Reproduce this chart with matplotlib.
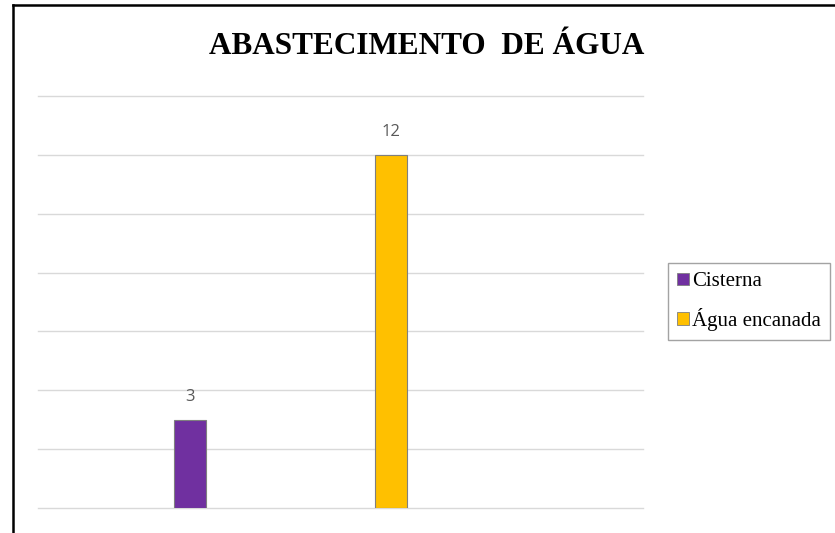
import matplotlib.pyplot as plt
from matplotlib.lines import Line2D
from matplotlib.patches import Patch

# dados do gráfico
categorias = ['Cisterna', 'Água encanada']
valores = [3, 12]
cores = ['#7030A0', '#FFC000']

fig = plt.figure(figsize=(8.35, 5.33), dpi=100)
W, H = 835, 533

# área do gráfico em pixels (esq, base, larg, alt)
ax = fig.add_axes([38 / W, (H - 508) / H, (643 - 38) / W, (508 - 96) / H])

posicoes = range(len(valores))
barras = ax.bar(posicoes, valores, width=0.155, color=cores,
                edgecolor='#7f7f7f', linewidth=0.8, zorder=3)

for b, v in zip(barras, valores):
    ax.text(b.get_x() + b.get_width() / 2, v + 0.5, str(v),
            ha='center', va='bottom', fontsize=12, color='#595959',
            family='Open Sans')

ax.set_xlim(-0.756, 2.254)
ax.set_ylim(0, 14)
ax.set_yticks(range(0, 15, 2))
ax.set_xticks([])
ax.tick_params(axis='y', length=0, labelleft=False)
ax.grid(axis='y', color='#d9d9d9', linewidth=1, zorder=0)
for gl in ax.get_ygridlines():
    gl.set_clip_on(False)
for s in ax.spines.values():
    s.set_visible(False)

fig.text(427 / W, 1 - 47 / H, 'ABASTECIMENTO  DE ÁGUA', ha='center',
         va='center', fontsize=22.5, fontweight='bold', family='Liberation Serif')

handles = [Patch(facecolor=c, edgecolor='#7f7f7f', linewidth=0.6) for c in cores]
leg = fig.legend(handles, categorias, loc='upper left',
                 bbox_to_anchor=(668 / W, 1 - 263 / H),
                 prop={'family': 'Liberation Serif', 'size': 15},
                 frameon=True, fancybox=False, handlelength=0.55,
                 handleheight=0.55, handletextpad=0.15, borderpad=0.45,
                 labelspacing=0.8, borderaxespad=0)
leg.get_frame().set_edgecolor('#8c8c8c')
leg.get_frame().set_linewidth(1)

# moldura (bordas superior e esquerda)
fig.add_artist(Line2D([13 / W, 13 / W], [0, 1 - 5 / H], color='black', linewidth=1.8))
fig.add_artist(Line2D([13 / W, 1], [1 - 5 / H, 1 - 5 / H], color='black', linewidth=1.8))

plt.savefig('out.png', dpi=100)
